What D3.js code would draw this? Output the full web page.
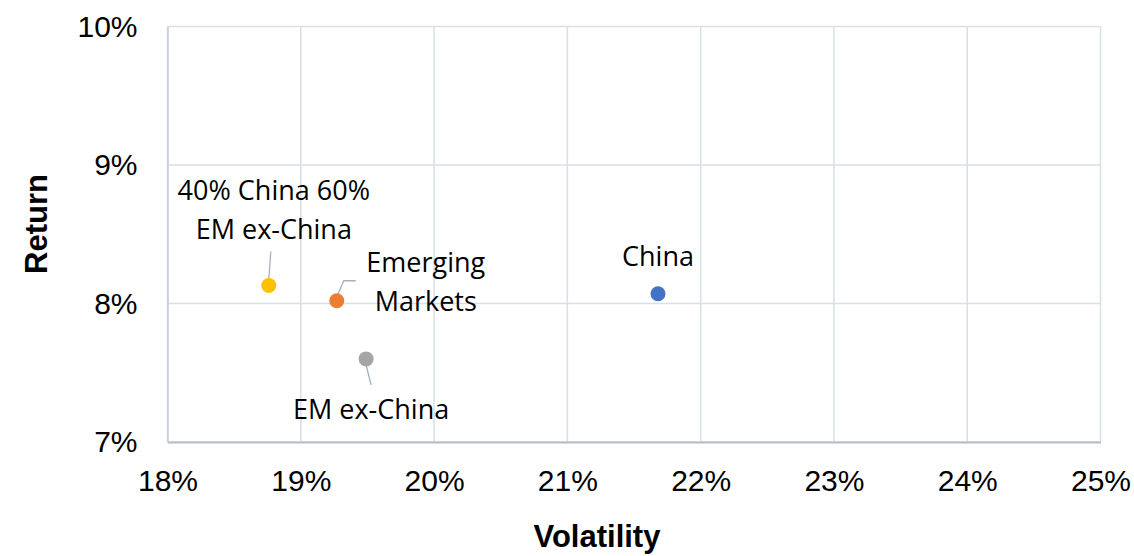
<!DOCTYPE html>
<html>
<head>
<meta charset="utf-8">
<script src="https://cdn.jsdelivr.net/npm/d3@7"></script>
<style>
  body { margin: 0; background: #fff; }
  .tick text { font-family: "Liberation Sans", Arial, sans-serif; font-size: 30px; fill: #000; }
  .axisTitle { font-family: "Liberation Sans", Arial, sans-serif; font-size: 31px; font-weight: bold; }
  .labels { font-family: "Open Sans", "Noto Sans", sans-serif; font-size: 27px; fill: #000; }
</style>
</head>
<body>
<script>
//data
var names = ["40% China 60% EM ex-China", "Emerging Markets", "EM ex-China", "China"];
var volatility = [0.1876, 0.1927, 0.1949, 0.2168];
var returns = [0.0813, 0.0802, 0.0760, 0.0807];
var colors = ["#ffc000", "#ed7d31", "#a5a5a5", "#4472c4"];
var xTicks = [0.18, 0.19, 0.20, 0.21, 0.22, 0.23, 0.24, 0.25];
var yTicks = [0.07, 0.08, 0.09, 0.10];

window.onload = function(){

    var w = 1134, h = 556;
    var margin = {left: 167.5, right: 33.5, top: 26.5, bottom: 114};

    var svg = d3.select("body")
        .append("svg")
        .attr("width", w)
        .attr("height", h);

    var x = d3.scaleLinear()
        .domain([0.18, 0.25])
        .range([margin.left, w - margin.right]);

    var y = d3.scaleLinear()
        .domain([0.07, 0.10])
        .range([h - margin.bottom, margin.top]);

    var fmt = d3.format(".0%");

    //vertical gridlines
    svg.selectAll(".vgrid")
        .data(xTicks)
        .enter()
        .append("line")
        .attr("x1", function(d){ return x(d); })
        .attr("x2", function(d){ return x(d); })
        .attr("y1", y(0.10))
        .attr("y2", y(0.07))
        .style("stroke", "#d9dee7")
        .style("stroke-width", 1.5);

    //horizontal gridlines
    svg.selectAll(".hgrid")
        .data(yTicks)
        .enter()
        .append("line")
        .attr("x1", x(0.18))
        .attr("x2", x(0.25))
        .attr("y1", function(d){ return y(d); })
        .attr("y2", function(d){ return y(d); })
        .style("stroke", "#d9dee7")
        .style("stroke-width", 1.5);

    //axes
    var xAxis = svg.append("g")
        .attr("transform", "translate(0," + y(0.07) + ")")
        .call(d3.axisBottom(x).tickValues(xTicks).tickFormat(fmt).tickSize(0).tickPadding(28));
    xAxis.select(".domain").style("stroke", "#b5bccb").style("stroke-width", 2);

    var yAxis = svg.append("g")
        .attr("transform", "translate(" + x(0.18) + ",0)")
        .call(d3.axisLeft(y).tickValues(yTicks).tickFormat(fmt).tickSize(0).tickPadding(30));
    yAxis.select(".domain").style("stroke", "#c5cbd8").style("stroke-width", 1.5);

    //axis titles
    svg.append("text")
        .attr("class", "axisTitle")
        .attr("text-anchor", "middle")
        .attr("x", 597)
        .attr("y", 547)
        .text("Volatility");

    svg.append("text")
        .attr("class", "axisTitle")
        .attr("text-anchor", "middle")
        .attr("transform", "translate(47,224) rotate(-90)")
        .text("Return");

    //leader lines, offsets relative to each point
    var leaders = [
        [[0, -6], [2, -34]],
        [[0, -4], [7, -20], [19, -20]],
        [[0, 6], [5, 26]],
        []
    ];
    svg.selectAll(".leader")
        .data(leaders)
        .enter()
        .append("path")
        .attr("d", function(d, i){
            if (!d.length) return null;
            return d3.line()(d.map(function(p){ return [x(volatility[i]) + p[0], y(returns[i]) + p[1]]; }));
        })
        .style("fill", "none")
        .style("stroke", "#a7b0bf")
        .style("stroke-width", 1.3);

    //points
    svg.selectAll(".circles")
        .data(names)
        .enter()
        .append("circle")
        .attr("cx", function(d, i){ return x(volatility[i]); })
        .attr("cy", function(d, i){ return y(returns[i]); })
        .attr("r", 7.5)
        .style("fill", function(d, i){ return colors[i]; });

    //label lines and offsets from each point
    var labelLines = [["40% China 60%", "EM ex-China"], ["Emerging", "Markets"], ["EM ex-China"], ["China"]];
    var labelOffsets = [[5, -85.5], [89, -29], [5, 60], [0, -28]];

    var labels = svg.selectAll(".labels")
        .data(names)
        .enter()
        .append("text")
        .attr("class", "labels")
        .attr("text-anchor", "middle")
        .attr("x", function(d, i){ return x(volatility[i]) + labelOffsets[i][0]; })
        .attr("y", function(d, i){ return y(returns[i]) + labelOffsets[i][1]; });

    labels.selectAll("tspan")
        .data(function(d, i){ return labelLines[i].map(function(t){ return {t: t, i: i}; }); })
        .enter()
        .append("tspan")
        .attr("x", function(d){ return x(volatility[d.i]) + labelOffsets[d.i][0]; })
        .attr("dy", function(d, j){ return j ? 39 : 0; })
        .text(function(d){ return d.t; });
};
</script>
</body>
</html>
